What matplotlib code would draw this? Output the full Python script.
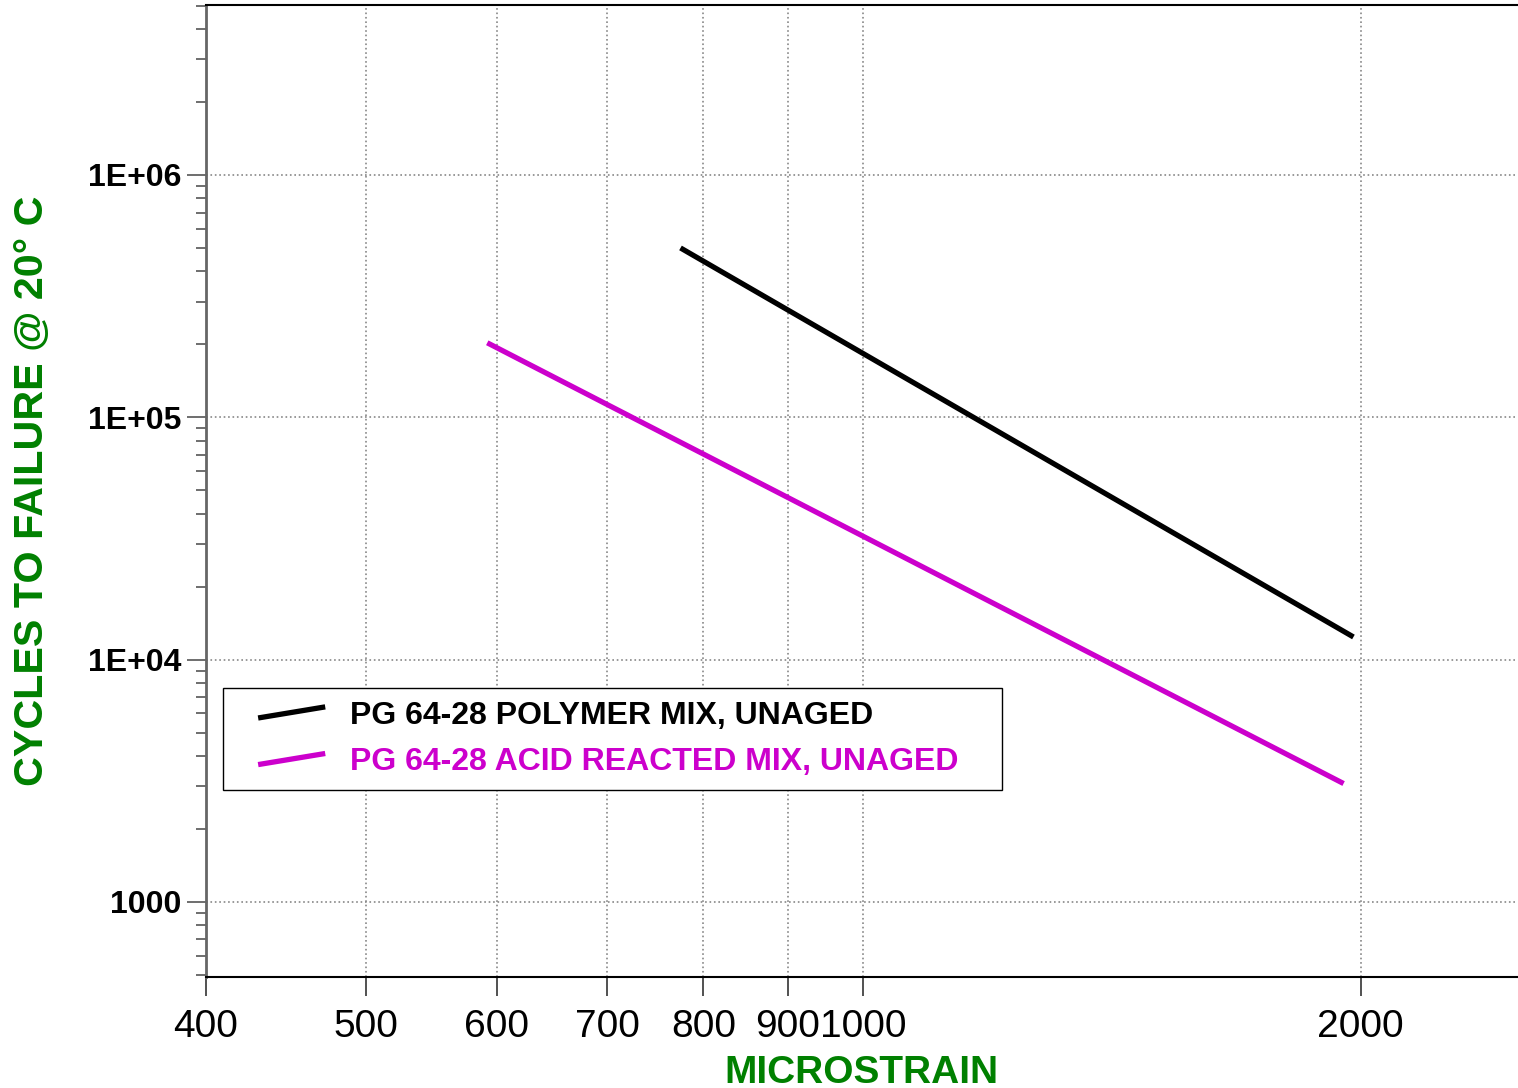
import numpy as np
import matplotlib
matplotlib.use('Agg')
import matplotlib.pyplot as plt
from matplotlib.lines import Line2D
from matplotlib.legend_handler import HandlerBase
from matplotlib.ticker import FixedLocator, NullFormatter

plt.rcParams['font.family'] = ['Liberation Sans', 'DejaVu Sans']

# fatigue lines (microstrain vs cycles to failure)
series_names = ["PG 64-28 POLYMER MIX, UNAGED", "PG 64-28 ACID REACTED MIX, UNAGED"]
polymer_strain = [775, 1980]
polymer_cycles = [5.0e5, 1.24e4]
acid_strain = [592, 1953]
acid_cycles = [2.03e5, 3.08e3]

x_ticks = [400, 500, 600, 700, 800, 900, 1000, 2000]
x_ticklabels = ["400", "500", "600", "700", "800", "900", "1000", "2000"]
y_ticks = [1000, 1e4, 1e5, 1e6]
y_ticklabels = ["1000", "1E+04", "1E+05", "1E+06"]

green = '#008000'
magenta = '#cc00cc'


# legend handle drawn as a slanted line, like the original
class SlantHandler(HandlerBase):
    def create_artists(self, legend, orig_handle, xdescent, ydescent,
                       width, height, fontsize, trans):
        yc = height / 2 - ydescent
        x0 = -xdescent + width * 0.25
        line = Line2D([x0, -xdescent + width], [yc - 4, yc + 4])
        line.update_from(orig_handle)
        line.set_transform(trans)
        return [line]


fig = plt.figure(figsize=(15.18, 10.88), dpi=100)
ax = fig.add_axes([206/1518, 1 - 977/1088, 1311/1518, 972/1088])

ax.set_xscale('log')
ax.set_yscale('log')
ax.set_xlim(400, 2487)
ax.set_ylim(490, 5.03e6)

l1, = ax.plot(polymer_strain, polymer_cycles, color='black', lw=3.8,
              solid_capstyle='butt')
l2, = ax.plot(acid_strain, acid_cycles, color=magenta, lw=3.8,
              solid_capstyle='butt')

#坐标刻度
ax.xaxis.set_major_locator(FixedLocator(x_ticks))
ax.set_xticklabels(x_ticklabels)
ax.xaxis.set_minor_locator(FixedLocator([]))
ax.yaxis.set_major_locator(FixedLocator(y_ticks))
ax.set_yticklabels(y_ticklabels, fontweight='bold')
ax.yaxis.set_minor_locator(FixedLocator(
    [m * 10**e for e in range(2, 7) for m in range(2, 10)]))
ax.yaxis.set_minor_formatter(NullFormatter())

ax.tick_params(axis='x', which='major', length=14, width=1.2, color='#333333',
               labelsize=28, pad=9)
ax.tick_params(axis='y', which='major', length=14, width=1.2, color='#555555',
               labelsize=23, pad=4)
ax.tick_params(axis='y', which='minor', length=7, width=1.2, color='#555555')
for lab in ax.get_yticklabels():
    lab.set_fontweight('bold')

ax.grid(True, which='major', color='#888888', linestyle=':', linewidth=1.2)

ax.spines['right'].set_visible(False)
ax.spines['top'].set_linewidth(1.5)
ax.spines['bottom'].set_linewidth(1.5)
ax.spines['left'].set_color('#666666')
ax.spines['left'].set_linewidth(2.0)

ax.set_xlabel("MICROSTRAIN", fontsize=28, fontweight='bold', color=green)
ax.xaxis.set_label_coords(0.5, -0.080)
ax.set_ylabel("CYCLES TO FAILURE @ 20° C", fontsize=29.7, fontweight='bold',
              color=green)
ax.yaxis.set_label_coords(-0.118, 0.5)

#图例
leg = ax.legend([l1, l2], series_names,
                handler_map={Line2D: SlantHandler()},
                loc='lower left', mode='expand',
                bbox_to_anchor=(223/1518, 298/1088, 779/1518, 0),
                bbox_transform=fig.transFigure, borderaxespad=0,
                prop={'size': 23, 'weight': 'bold'},
                handlelength=2.8, handletextpad=0.78, borderpad=0.4,
                labelspacing=0.52, fancybox=False, framealpha=1,
                edgecolor='black')
leg.get_frame().set_linewidth(1.0)
for txt, c in zip(leg.get_texts(), ['black', magenta]):
    txt.set_color(c)

fig.savefig('out.png', dpi=100)
